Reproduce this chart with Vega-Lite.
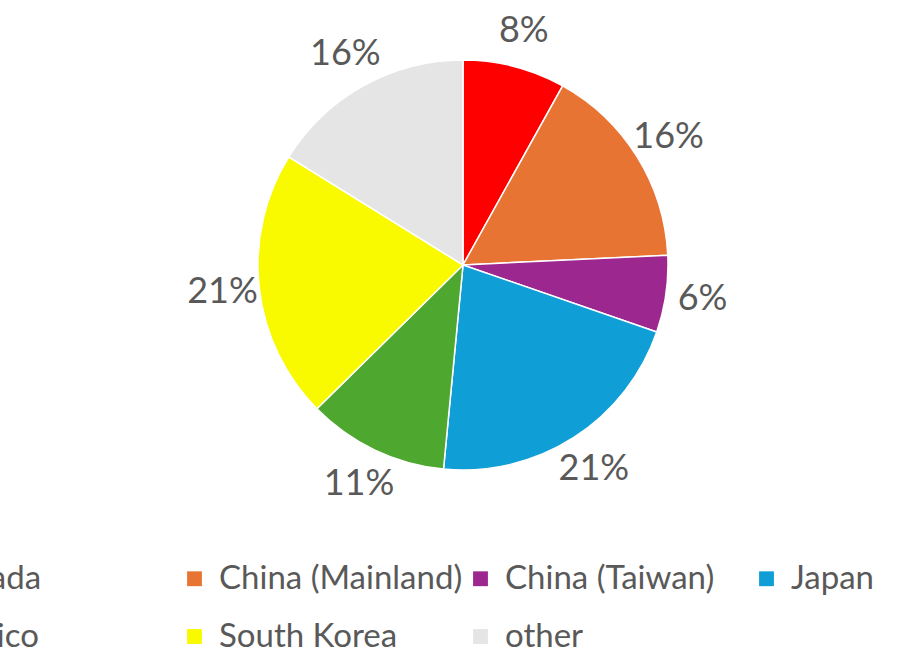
{
  "$schema": "https://vega.github.io/schema/vega-lite/v6.json",
  "autosize": "none",
  "width": 926,
  "height": 530,
  "padding": {"left": 0, "right": 0, "top": 0, "bottom": 123},
  "background": "white",
  "config": {"view": {"stroke": null}, "font": "Lato"},
  "data": {
    "values": [
      {"name": "Canada", "value": 8, "label": "8%"},
      {"name": "China (Mainland)", "value": 16, "label": "16%"},
      {"name": "China (Taiwan)", "value": 6, "label": "6%"},
      {"name": "Japan", "value": 21, "label": "21%"},
      {"name": "Mexico", "value": 11, "label": "11%"},
      {"name": "South Korea", "value": 21, "label": "21%"},
      {"name": "other", "value": 16, "label": "16%"}
    ]
  },
  "layer": [
    {
      "mark": {"type": "arc", "outerRadius": 205, "stroke": "white", "strokeWidth": 1.5},
      "encoding": {
        "theta": {"field": "value", "type": "quantitative", "stack": true},
        "order": {"field": "name", "sort": "ascending"},
        "color": {
          "field": "name",
          "type": "nominal",
          "scale": {
            "domain": ["Canada", "China (Mainland)", "China (Taiwan)", "Japan", "Mexico", "South Korea", "other"],
            "range": ["#FF0000", "#E87433", "#9C278F", "#0F9ED5", "#4EA72E", "#F9F900", "#E5E5E5"]
          },
          "legend": {
            "title": null,
            "orient": "none",
            "legendX": -108,
            "legendY": 562,
            "direction": "horizontal",
            "columns": 4,
            "gridAlign": "all",
            "symbolType": "square",
            "symbolSize": 220,
            "symbolStrokeWidth": 0,
            "labelFontSize": 33,
            "labelColor": "#595959",
            "labelFont": "Lato",
            "labelLimit": 400,
            "rowPadding": 24,
            "columnPadding": 1,
            "labelOffset": 8
          }
        }
      }
    },
    {
      "mark": {"type": "text", "radius": 242, "fontSize": 36, "fill": "#595959", "font": "Lato"},
      "encoding": {
        "theta": {"field": "value", "type": "quantitative", "stack": true},
        "order": {"field": "name", "sort": "ascending"},
        "text": {"field": "label"}
      }
    }
  ]
}
